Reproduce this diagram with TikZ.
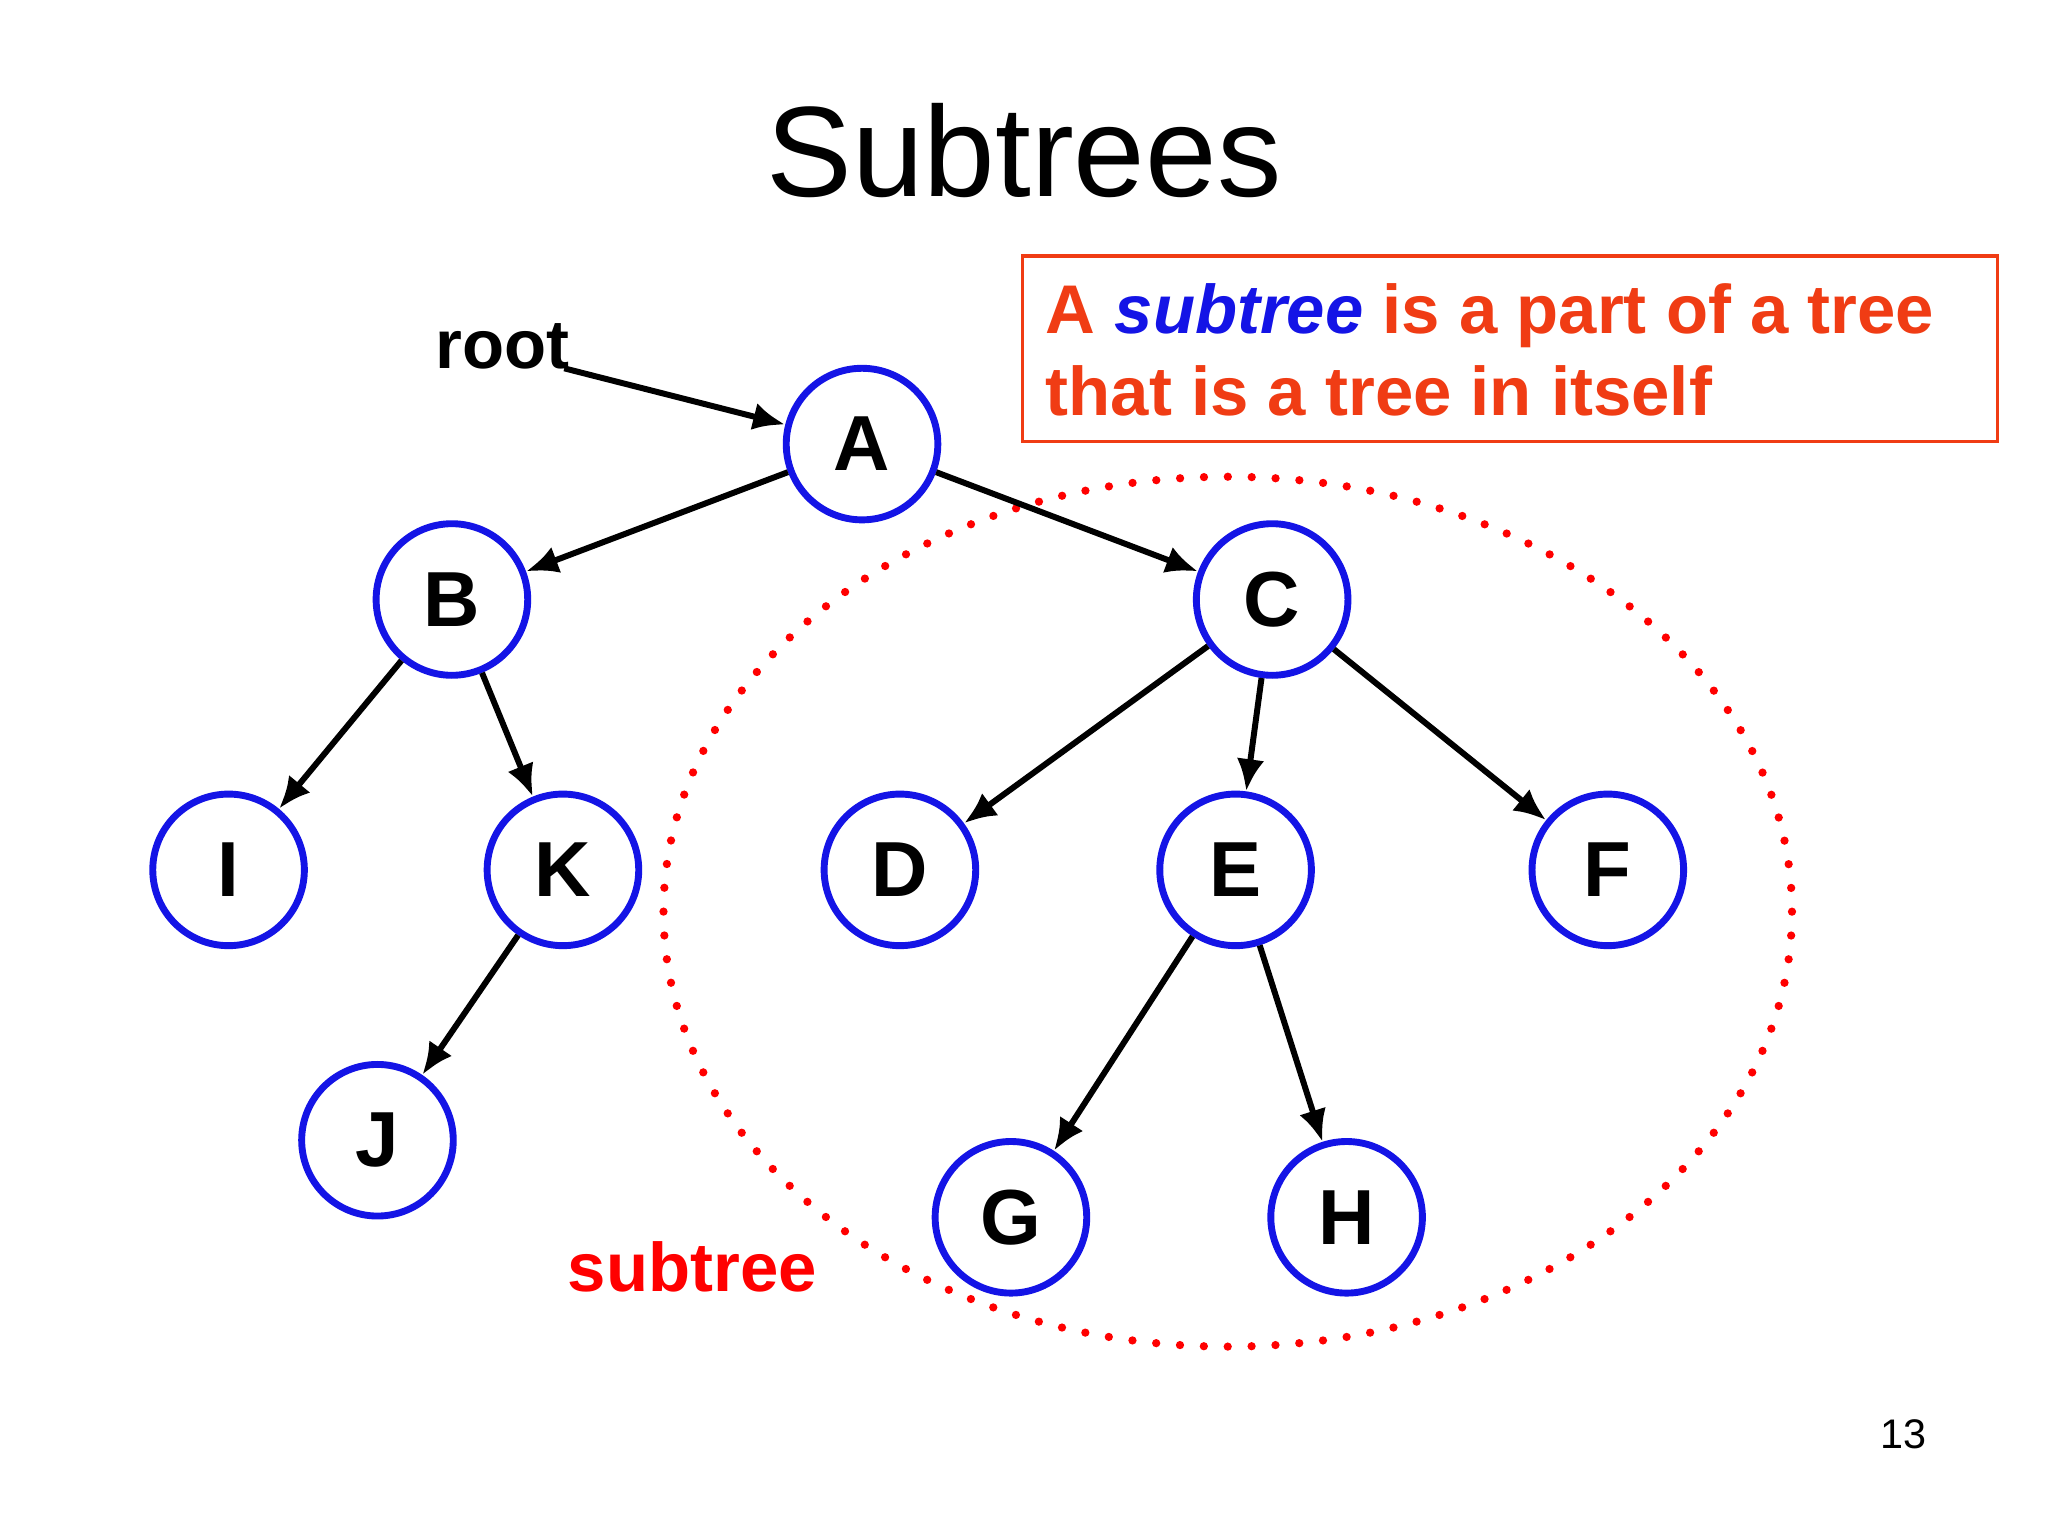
\documentclass[tikz,border=0pt]{standalone}
\usepackage{fontspec}
\setmainfont{Liberation Sans}
\usetikzlibrary{arrows.meta}
\definecolor{nodeblue}{RGB}{20,20,230}
\definecolor{boxred}{RGB}{240,60,20}
\begin{document}
\begin{tikzpicture}[x=0.01cm,y=-0.01cm,
  tn/.style={circle,draw=nodeblue,line width=1.5pt,minimum size=1.16cm,inner sep=0pt,font=\fontsize{17}{17}\selectfont\bfseries},
  edge/.style={line width=1.3pt,-{Latex[length=7pt,width=6pt]}}]
\useasboundingbox (0,0) rectangle (1568,1176);
\fill[white] (0,0) rectangle (1568,1176);
\node[font=\fontsize{28}{28}\selectfont] (title) at (784,115) {Subtrees};
\node[draw=boxred,line width=0.8pt,minimum width=7.46cm,minimum height=1.42cm,inner sep=0pt] (box) at (1156,267) {};
\node[anchor=base west,font=\fontsize{15}{15}\selectfont\bfseries,text=boxred,inner sep=0pt] (l1) at (800,255) {A \textcolor{nodeblue}{\itshape subtree} is a part of a tree};
\node[anchor=base west,font=\fontsize{15}{15}\selectfont\bfseries,text=boxred,inner sep=0pt] (l2) at (800,318) {that is a tree in itself};
\draw[red,line width=1.8pt,dash pattern=on 0pt off 5.2pt,line cap=round] (940,698) ellipse [x radius=432, y radius=333];
\node[font=\fontsize{15}{15}\selectfont\bfseries,text=red] (st) at (530,970) {subtree};
\node[font=\fontsize{15}{15}\selectfont\bfseries] (root) at (385,265) {root};
\node[font=\fontsize{9}{9}\selectfont] (pg) at (1457,1098) {13};
\node[tn] (A) at (660,340) {A};
\node[tn] (B) at (346,459) {B};
\node[tn] (C) at (974,459) {C};
\node[tn] (I) at (175,666) {I};
\node[tn] (K) at (431,666) {K};
\node[tn] (D) at (689,666) {D};
\node[tn] (E) at (946,666) {E};
\node[tn] (F) at (1231,666) {F};
\node[tn] (J) at (289,873) {J};
\node[tn] (G) at (774,932) {G};
\node[tn] (H) at (1031,932) {H};
\coordinate (r0) at (432,282);
\draw[edge] (r0) -- (A);
\draw[edge] (A) -- (B);
\draw[edge] (A) -- (C);
\draw[edge] (B) -- (I);
\draw[edge] (B) -- (K);
\draw[edge] (K) -- (J);
\draw[edge] (C) -- (D);
\draw[edge] (C) -- (E);
\draw[edge] (C) -- (F);
\draw[edge] (E) -- (G);
\draw[edge] (E) -- (H);
\end{tikzpicture}
\end{document}
